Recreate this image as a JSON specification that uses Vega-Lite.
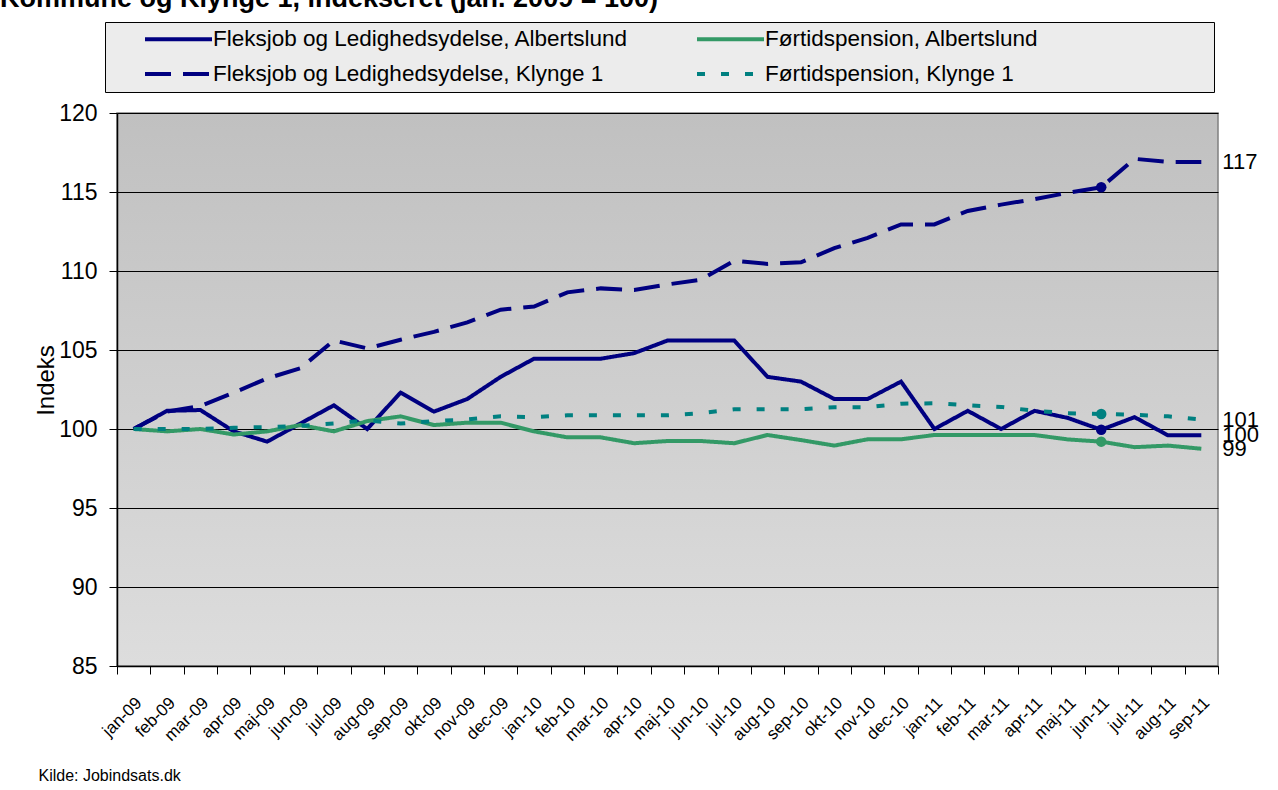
{
  "$schema": "https://vega.github.io/schema/vega-lite/v6.json",
  "width": 1101,
  "height": 553,
  "autosize": {"type": "none"},
  "padding": {"left": 117, "top": 113, "right": 60, "bottom": 124},
  "background": "#ffffff",
  "title": {
    "text": "Kommune og Klynge 1, indekseret (jan. 2009 = 100)",
    "anchor": "start",
    "frame": "group",
    "dx": -117,
    "dy": -9,
    "offset": 0,
    "fontSize": 27,
    "fontWeight": "bold",
    "font": "Liberation Sans",
    "color": "#000000"
  },
  "config": {
    "font": "Liberation Sans",
    "view": {
      "stroke": "#808080",
      "strokeWidth": 1.5,
      "fill": {
        "gradient": "linear", "x1": 0, "y1": 0, "x2": 0, "y2": 1,
        "stops": [{"offset": 0, "color": "#c0c0c0"}, {"offset": 1, "color": "#dddddd"}]
      }
    },
    "axis": {"domainColor": "#000000", "tickColor": "#000000", "labelColor": "#000000", "titleColor": "#000000", "domainWidth": 1.5}
  },
  "data": {
    "values": [
      {"m": "jan-09", "Fleksjob og Ledighedsydelse, Albertslund": 100, "Førtidspension, Albertslund": 100, "Fleksjob og Ledighedsydelse, Klynge 1": 100, "Førtidspension, Klynge 1": 100},
      {"m": "feb-09", "Fleksjob og Ledighedsydelse, Albertslund": 101.15, "Førtidspension, Albertslund": 99.85, "Fleksjob og Ledighedsydelse, Klynge 1": 101.1, "Førtidspension, Klynge 1": 100},
      {"m": "mar-09", "Fleksjob og Ledighedsydelse, Albertslund": 101.2, "Førtidspension, Albertslund": 100, "Fleksjob og Ledighedsydelse, Klynge 1": 101.45, "Førtidspension, Klynge 1": 100},
      {"m": "apr-09", "Fleksjob og Ledighedsydelse, Albertslund": 99.85, "Førtidspension, Albertslund": 99.65, "Fleksjob og Ledighedsydelse, Klynge 1": 102.3, "Førtidspension, Klynge 1": 100.08},
      {"m": "maj-09", "Fleksjob og Ledighedsydelse, Albertslund": 99.2, "Førtidspension, Albertslund": 99.85, "Fleksjob og Ledighedsydelse, Klynge 1": 103.2, "Førtidspension, Klynge 1": 100.12},
      {"m": "jun-09", "Fleksjob og Ledighedsydelse, Albertslund": 100.35, "Førtidspension, Albertslund": 100.25, "Fleksjob og Ledighedsydelse, Klynge 1": 103.85, "Førtidspension, Klynge 1": 100.2},
      {"m": "jul-09", "Fleksjob og Ledighedsydelse, Albertslund": 101.5, "Førtidspension, Albertslund": 99.85, "Fleksjob og Ledighedsydelse, Klynge 1": 105.6, "Førtidspension, Klynge 1": 100.35},
      {"m": "aug-09", "Fleksjob og Ledighedsydelse, Albertslund": 100.0, "Førtidspension, Albertslund": 100.5, "Fleksjob og Ledighedsydelse, Klynge 1": 105.1, "Førtidspension, Klynge 1": 100.55},
      {"m": "sep-09", "Fleksjob og Ledighedsydelse, Albertslund": 102.3, "Førtidspension, Albertslund": 100.8, "Fleksjob og Ledighedsydelse, Klynge 1": 105.65, "Førtidspension, Klynge 1": 100.35},
      {"m": "okt-09", "Fleksjob og Ledighedsydelse, Albertslund": 101.1, "Førtidspension, Albertslund": 100.25, "Fleksjob og Ledighedsydelse, Klynge 1": 106.15, "Førtidspension, Klynge 1": 100.5},
      {"m": "nov-09", "Fleksjob og Ledighedsydelse, Albertslund": 101.9, "Førtidspension, Albertslund": 100.4, "Fleksjob og Ledighedsydelse, Klynge 1": 106.75, "Førtidspension, Klynge 1": 100.6},
      {"m": "dec-09", "Fleksjob og Ledighedsydelse, Albertslund": 103.3, "Førtidspension, Albertslund": 100.4, "Fleksjob og Ledighedsydelse, Klynge 1": 107.55, "Førtidspension, Klynge 1": 100.8},
      {"m": "jan-10", "Fleksjob og Ledighedsydelse, Albertslund": 104.45, "Førtidspension, Albertslund": 99.85, "Fleksjob og Ledighedsydelse, Klynge 1": 107.75, "Førtidspension, Klynge 1": 100.75},
      {"m": "feb-10", "Fleksjob og Ledighedsydelse, Albertslund": 104.45, "Førtidspension, Albertslund": 99.47, "Fleksjob og Ledighedsydelse, Klynge 1": 108.65, "Førtidspension, Klynge 1": 100.87},
      {"m": "mar-10", "Fleksjob og Ledighedsydelse, Albertslund": 104.45, "Førtidspension, Albertslund": 99.47, "Fleksjob og Ledighedsydelse, Klynge 1": 108.9, "Førtidspension, Klynge 1": 100.87},
      {"m": "apr-10", "Fleksjob og Ledighedsydelse, Albertslund": 104.8, "Førtidspension, Albertslund": 99.1, "Fleksjob og Ledighedsydelse, Klynge 1": 108.8, "Førtidspension, Klynge 1": 100.87},
      {"m": "maj-10", "Fleksjob og Ledighedsydelse, Albertslund": 105.6, "Førtidspension, Albertslund": 99.24, "Fleksjob og Ledighedsydelse, Klynge 1": 109.15, "Førtidspension, Klynge 1": 100.87},
      {"m": "jun-10", "Fleksjob og Ledighedsydelse, Albertslund": 105.6, "Førtidspension, Albertslund": 99.24, "Fleksjob og Ledighedsydelse, Klynge 1": 109.45, "Førtidspension, Klynge 1": 101.0},
      {"m": "jul-10", "Fleksjob og Ledighedsydelse, Albertslund": 105.6, "Førtidspension, Albertslund": 99.1, "Fleksjob og Ledighedsydelse, Klynge 1": 110.65, "Førtidspension, Klynge 1": 101.25},
      {"m": "aug-10", "Fleksjob og Ledighedsydelse, Albertslund": 103.3, "Førtidspension, Albertslund": 99.62, "Fleksjob og Ledighedsydelse, Klynge 1": 110.45, "Førtidspension, Klynge 1": 101.25},
      {"m": "sep-10", "Fleksjob og Ledighedsydelse, Albertslund": 103.0, "Førtidspension, Albertslund": 99.3, "Fleksjob og Ledighedsydelse, Klynge 1": 110.55, "Førtidspension, Klynge 1": 101.25},
      {"m": "okt-10", "Fleksjob og Ledighedsydelse, Albertslund": 101.9, "Førtidspension, Albertslund": 98.95, "Fleksjob og Ledighedsydelse, Klynge 1": 111.45, "Førtidspension, Klynge 1": 101.38},
      {"m": "nov-10", "Fleksjob og Ledighedsydelse, Albertslund": 101.9, "Førtidspension, Albertslund": 99.35, "Fleksjob og Ledighedsydelse, Klynge 1": 112.1, "Førtidspension, Klynge 1": 101.38},
      {"m": "dec-10", "Fleksjob og Ledighedsydelse, Albertslund": 103.0, "Førtidspension, Albertslund": 99.35, "Fleksjob og Ledighedsydelse, Klynge 1": 112.95, "Førtidspension, Klynge 1": 101.6},
      {"m": "jan-11", "Fleksjob og Ledighedsydelse, Albertslund": 100.0, "Førtidspension, Albertslund": 99.62, "Fleksjob og Ledighedsydelse, Klynge 1": 112.95, "Førtidspension, Klynge 1": 101.63},
      {"m": "feb-11", "Fleksjob og Ledighedsydelse, Albertslund": 101.15, "Førtidspension, Albertslund": 99.62, "Fleksjob og Ledighedsydelse, Klynge 1": 113.8, "Førtidspension, Klynge 1": 101.5},
      {"m": "mar-11", "Fleksjob og Ledighedsydelse, Albertslund": 100.0, "Førtidspension, Albertslund": 99.62, "Fleksjob og Ledighedsydelse, Klynge 1": 114.2, "Førtidspension, Klynge 1": 101.4},
      {"m": "apr-11", "Fleksjob og Ledighedsydelse, Albertslund": 101.15, "Førtidspension, Albertslund": 99.62, "Fleksjob og Ledighedsydelse, Klynge 1": 114.55, "Førtidspension, Klynge 1": 101.15},
      {"m": "maj-11", "Fleksjob og Ledighedsydelse, Albertslund": 100.7, "Førtidspension, Albertslund": 99.34, "Fleksjob og Ledighedsydelse, Klynge 1": 114.95, "Førtidspension, Klynge 1": 101.0},
      {"m": "jun-11", "Fleksjob og Ledighedsydelse, Albertslund": 99.95, "Førtidspension, Albertslund": 99.2, "Fleksjob og Ledighedsydelse, Klynge 1": 115.3, "Førtidspension, Klynge 1": 100.95},
      {"m": "jul-11", "Fleksjob og Ledighedsydelse, Albertslund": 100.75, "Førtidspension, Albertslund": 98.85, "Fleksjob og Ledighedsydelse, Klynge 1": 117.1, "Førtidspension, Klynge 1": 100.9},
      {"m": "aug-11", "Fleksjob og Ledighedsydelse, Albertslund": 99.6, "Førtidspension, Albertslund": 98.95, "Fleksjob og Ledighedsydelse, Klynge 1": 116.9, "Førtidspension, Klynge 1": 100.8},
      {"m": "sep-11", "Fleksjob og Ledighedsydelse, Albertslund": 99.6, "Førtidspension, Albertslund": 98.75, "Fleksjob og Ledighedsydelse, Klynge 1": 116.9, "Førtidspension, Klynge 1": 100.6}
    ]
  },
  "transform": [
    {"fold": ["Fleksjob og Ledighedsydelse, Albertslund", "Førtidspension, Albertslund", "Fleksjob og Ledighedsydelse, Klynge 1", "Førtidspension, Klynge 1"], "as": ["s", "v"]}
  ],
  "encoding": {
    "x": {
      "field": "m", "type": "ordinal", "bandPosition": 0.5,
      "sort": ["jan-09","feb-09","mar-09","apr-09","maj-09","jun-09","jul-09","aug-09","sep-09","okt-09","nov-09","dec-09","jan-10","feb-10","mar-10","apr-10","maj-10","jun-10","jul-10","aug-10","sep-10","okt-10","nov-10","dec-10","jan-11","feb-11","mar-11","apr-11","maj-11","jun-11","jul-11","aug-11","sep-11"],
      "scale": {"type": "band", "paddingInner": 0, "paddingOuter": 0},
      "axis": {
        "tickBand": "extent", "labelAngle": -45, "labelAlign": "right", "labelBaseline": "middle",
        "labelFontSize": 17, "labelPadding": 26, "labelOffset": 5, "tickSize": 8, "grid": false,
        "title": "Kilde: Jobindsats.dk", "titleFontSize": 16, "titleFontWeight": "normal",
        "titleX": -79, "titleY": 109, "titleAlign": "left", "titleBaseline": "middle", "titleAnchor": "start"
      }
    },
    "y": {
      "field": "v", "type": "quantitative",
      "scale": {"domain": [85, 120], "nice": false, "zero": false},
      "axis": {
        "values": [85, 90, 95, 100, 105, 110, 115, 120], "tickSize": 8, "labelPadding": 12, "labelFontSize": 23,
        "grid": true, "gridColor": "#000000", "gridWidth": 1, "gridOpacity": 1,
        "title": "Indeks", "titleFontSize": 24, "titleFontWeight": "normal",
        "titleX": -64, "titleY": 267, "titleBaseline": "alphabetic", "titleAngle": -90
      }
    }
  },
  "layer": [
    {
      "mark": {"type": "line", "strokeWidth": 4, "strokeJoin": "miter"},
      "encoding": {
        "color": {
          "field": "s", "type": "nominal", "title": null,
          "scale": {"domain": ["Fleksjob og Ledighedsydelse, Albertslund", "Førtidspension, Albertslund", "Fleksjob og Ledighedsydelse, Klynge 1", "Førtidspension, Klynge 1"], "range": ["#000080", "#339966", "#000080", "#008080"]},
          "legend": {
            "orient": "none", "legendX": -12, "legendY": -91, "columns": 2, "direction": "horizontal",
            "symbolType": "stroke", "symbolSize": 4489, "symbolStrokeWidth": 4,
            "labelFontSize": 22.5, "labelColor": "#000000", "clipHeight": 22, "rowPadding": 12, "columnPadding": 34,
            "padding": 6, "fillColor": "#ececec", "strokeColor": "#000000",
            "symbolOffset": 32, "labelOffset": -1, "labelLimit": 600,
            "title": "\u00a0", "titleOrient": "right", "titlePadding": 169, "titleFontSize": 10
          }
        },
        "strokeDash": {
          "field": "s", "type": "nominal", "title": null,
          "scale": {"domain": ["Fleksjob og Ledighedsydelse, Albertslund", "Førtidspension, Albertslund", "Fleksjob og Ledighedsydelse, Klynge 1", "Førtidspension, Klynge 1"], "range": [[1, 0], [1, 0], [26, 12], [8, 16]]},
          "legend": {
            "orient": "none", "legendX": -12, "legendY": -91, "columns": 2, "direction": "horizontal",
            "symbolType": "stroke", "symbolSize": 4489, "symbolStrokeWidth": 4,
            "labelFontSize": 22.5, "labelColor": "#000000", "clipHeight": 22, "rowPadding": 12, "columnPadding": 34,
            "padding": 6, "fillColor": "#ececec", "strokeColor": "#000000",
            "symbolOffset": 32, "labelOffset": -1, "labelLimit": 600,
            "title": "\u00a0", "titleOrient": "right", "titlePadding": 169, "titleFontSize": 10
          }
        }
      }
    },
    {
      "transform": [{"filter": "datum.m == 'jun-11'"}],
      "mark": {"type": "point", "filled": true, "size": 110, "opacity": 1},
      "encoding": {
        "color": {"field": "s", "type": "nominal", "legend": null}
      }
    },
    {
      "transform": [{"filter": "datum.m == 'sep-11'"}],
      "mark": {"type": "text", "align": "left", "baseline": "middle", "dx": 21, "fontSize": 22, "color": "#000000"},
      "encoding": {
        "text": {"field": "v", "type": "quantitative", "format": ".0f"}
      }
    }
  ],
  "resolve": {"legend": {"color": "independent", "strokeDash": "independent"}}
}
